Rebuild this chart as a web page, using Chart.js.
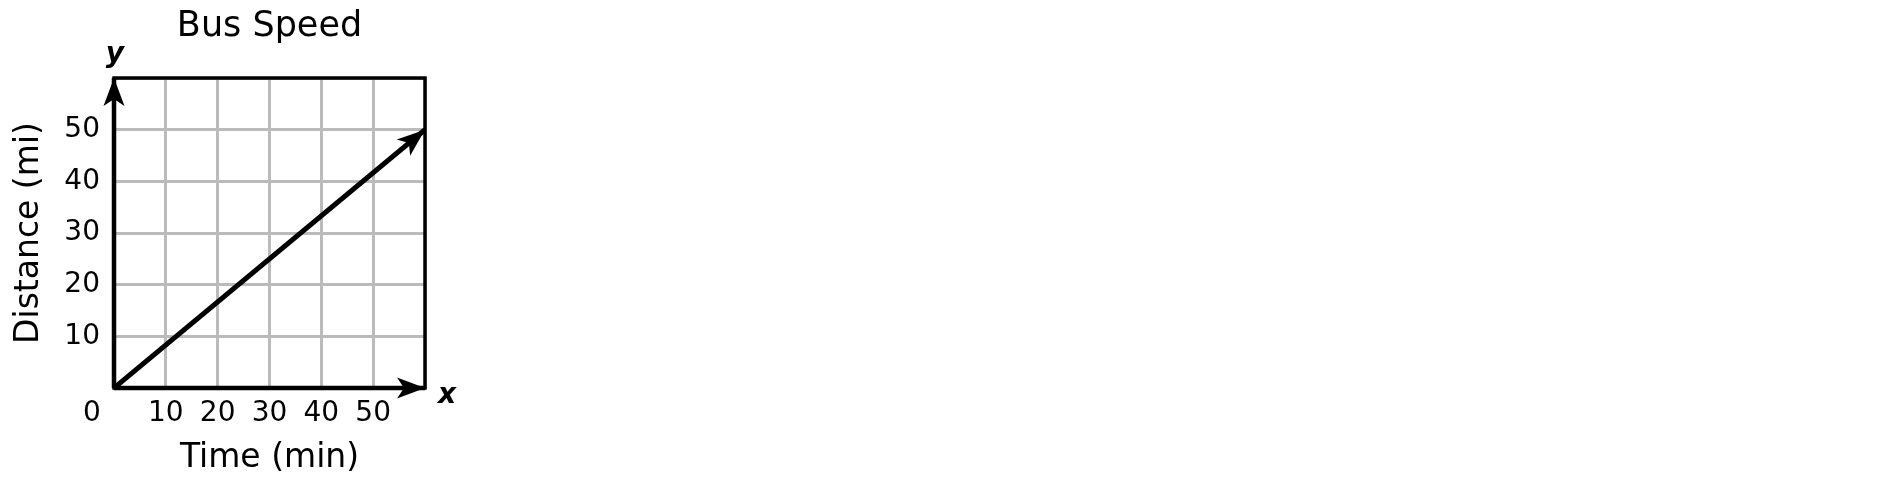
<!DOCTYPE html>
<html>
<head>
<meta charset="utf-8">
<title>Bus Speed</title>
<script src="https://cdn.jsdelivr.net/npm/chart.js@4.4.1/dist/chart.umd.min.js"></script>
<style>
  html, body { margin: 0; padding: 0; background: #fff; }
  #wrap { position: absolute; left: 0; top: 0; width: 536px; height: 492px; }
</style>
</head>
<body>
<div id="wrap"><canvas id="busSpeed"></canvas></div>
<script>
// data
const timeMin = [0, 60];
const distanceMi = [0, 50];
const xTicks = [0, 10, 20, 30, 40, 50, 60];
const yTicks = [0, 10, 20, 30, 40, 50, 60];
const chartTitle = "Bus Speed";

Chart.defaults.font.family = "'DejaVu Sans', Verdana, sans-serif";
Chart.defaults.color = "#000";

function arrowHead(ctx, x, y, angle) {
  // tip at (x, y), pointing in direction angle
  ctx.save();
  ctx.translate(x, y);
  ctx.rotate(angle);
  ctx.beginPath();
  ctx.moveTo(0, 0);
  ctx.lineTo(-28, -10.5);
  ctx.lineTo(-21, 0);
  ctx.lineTo(-28, 10.5);
  ctx.closePath();
  ctx.fillStyle = "#000";
  ctx.fill();
  ctx.restore();
}

const extras = {
  id: "extras",
  beforeDatasetsDraw(chart) {
    let ctx = chart.ctx;
    let a = chart.chartArea;
    ctx.save();
    ctx.strokeStyle = "#000";
    ctx.lineWidth = 3.5;
    ctx.strokeRect(a.left, a.top, a.right - a.left, a.bottom - a.top);
    ctx.lineWidth = 4.5;
    ctx.beginPath();
    ctx.moveTo(a.left, a.bottom);
    ctx.lineTo(a.left, a.top);
    ctx.moveTo(a.left, a.bottom);
    ctx.lineTo(a.right, a.bottom);
    ctx.stroke();
    ctx.restore();
  },
  afterDraw(chart) {
    let ctx = chart.ctx;
    let a = chart.chartArea;
    let xs = chart.scales.x;
    let ys = chart.scales.y;

    // axis arrows
    arrowHead(ctx, a.right, a.bottom, 0);
    arrowHead(ctx, a.left, a.top, -Math.PI / 2);

    // arrow at the end of the line
    let n = timeMin.length;
    let x1 = xs.getPixelForValue(timeMin[n - 2]);
    let y1 = ys.getPixelForValue(distanceMi[n - 2]);
    let x2 = xs.getPixelForValue(timeMin[n - 1]);
    let y2 = ys.getPixelForValue(distanceMi[n - 1]);
    arrowHead(ctx, x2, y2, Math.atan2(y2 - y1, x2 - x1));

    ctx.save();
    ctx.fillStyle = "#000";
    ctx.textAlign = "center";
    ctx.textBaseline = "middle";
    ctx.font = "35px 'DejaVu Sans', Verdana, sans-serif";
    ctx.fillText(chartTitle, (a.left + a.right) / 2, 27);

    ctx.font = "28px 'DejaVu Sans', Verdana, sans-serif";
    ctx.fillText("0", xs.getPixelForValue(0) - 22, ys.getPixelForValue(0) + 26);

    ctx.textBaseline = "alphabetic";
    ctx.font = "italic bold 28px 'DejaVu Sans', Verdana, sans-serif";
    ctx.fillText("y", a.left + 1, a.top - 16);
    ctx.fillText("x", a.right + 22, a.bottom + 15);
    ctx.restore();
  },
};

let canvas = document.getElementById("busSpeed");

new Chart(canvas, {
  type: "scatter",
  data: {
    datasets: [
      {
        label: "Bus",
        data: timeMin.map((t, i) => ({ x: t, y: distanceMi[i] })),
        showLine: true,
        borderColor: "#000",
        borderWidth: 5,
        pointRadius: 0,
        fill: false,
      },
    ],
  },
  options: {
    responsive: true,
    maintainAspectRatio: false,
    animation: false,
    events: [],
    layout: {
      padding: { left: 0, right: 111, top: 78, bottom: 0 },
    },
    plugins: {
      legend: { display: false },
      tooltip: { enabled: false },
      title: { display: false },
    },
    scales: {
      x: {
        type: "linear",
        min: 0,
        max: 60,
        afterBuildTicks: (s) => {
          s.ticks = xTicks.map((v) => ({ value: v }));
        },
        afterFit: (s) => {
          s.height = 104;
        },
        grid: { color: "#bbbbbb", lineWidth: 3, drawTicks: false },
        border: { display: false },
        ticks: {
          padding: 9,
          maxRotation: 0,
          font: { size: 28 },
          callback: (v) => (v === 0 || v === 60 ? "" : v),
        },
        title: {
          display: true,
          text: "Time (min)",
          font: { size: 33 },
          padding: { top: 0, bottom: 14 },
        },
      },
      y: {
        type: "linear",
        min: 0,
        max: 60,
        afterBuildTicks: (s) => {
          s.ticks = yTicks.map((v) => ({ value: v }));
        },
        afterFit: (s) => {
          s.width = 114;
        },
        grid: { color: "#bbbbbb", lineWidth: 3, drawTicks: false },
        border: { display: false },
        ticks: {
          padding: 14,
          font: { size: 28 },
          callback: (v) => (v === 0 || v === 60 ? "" : v),
        },
        title: {
          display: true,
          text: "Distance (mi)",
          font: { size: 33 },
          padding: { top: 10, bottom: 0 },
        },
      },
    },
  },
  plugins: [extras],
});
</script>
</body>
</html>
